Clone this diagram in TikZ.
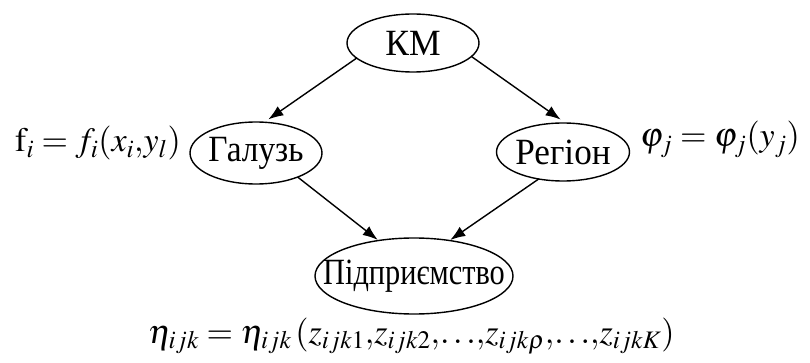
\documentclass[tikz,border=0pt]{standalone}
\usepackage{graphicx}
\usepackage{mathptmx}
\usepackage[no-math]{fontspec}
\setmainfont{Liberation Serif}
\usetikzlibrary{arrows.meta,shapes.geometric}
\begin{document}
\begin{tikzpicture}[x=1pt,y=-1pt,
  ell/.style={draw, line width=1.4pt, ellipse, inner sep=0pt, outer sep=0pt},
  txt/.style={inner sep=0pt, font=\fontsize{37}{40}\selectfont},
  arr/.style={line width=1.4pt, -{Latex[length=15pt,width=11pt]}},
  lab/.style={inner sep=0pt, font=\fontsize{34}{40}\selectfont}]
\useasboundingbox (0,0) rectangle (810,363);
\node[ell, minimum width=132pt, minimum height=58pt] (km) at (413,43) {};
\node[ell, minimum width=132pt, minimum height=62pt] (gal) at (256,153) {};
\node[ell, minimum width=133pt, minimum height=58pt] (reg) at (563,152) {};
\node[ell, minimum width=198pt, minimum height=76pt] (pid) at (414,276) {};
\node[txt] (kmt) at (km.center) {\scalebox{0.96}[1]{КМ}};
\node[txt] (galt) at (gal.center) {\scalebox{0.9}[1]{Галузь}};
\node[txt] (regt) at (reg.center) {\scalebox{0.95}[1]{Регіон}};
\node[txt] (pidt) at (pid.center) {\scalebox{0.82}[1]{Підприємство}};
\draw[arr, shorten >=5pt] (km.195) -- (gal.75);
\draw[arr, shorten >=6pt] (km.-13) -- (reg.85);
\draw[arr, shorten >=1pt] (gal.-30) -- (pid.135);
\draw[arr, shorten >=1pt] (reg.228) -- (pid.45);
\node[lab, anchor=base west] (fg) at (15,152) {$\mathrm{f}_i = f_i(x_i{,}y_l)$};
\node[lab, anchor=base west] (fr) at (640,147) {$\varphi_j = \varphi_j(y_j)$};
\node[lab, anchor=base west] (fp) at (148,343) {$\eta_{ijk} = \eta_{ijk}\,(z_{ijk1}{,}z_{ijk2}{,}{\ldots}{,}z_{ijk\rho}{,}{\ldots}{,}z_{ijkK})$};
\end{tikzpicture}
\end{document}
